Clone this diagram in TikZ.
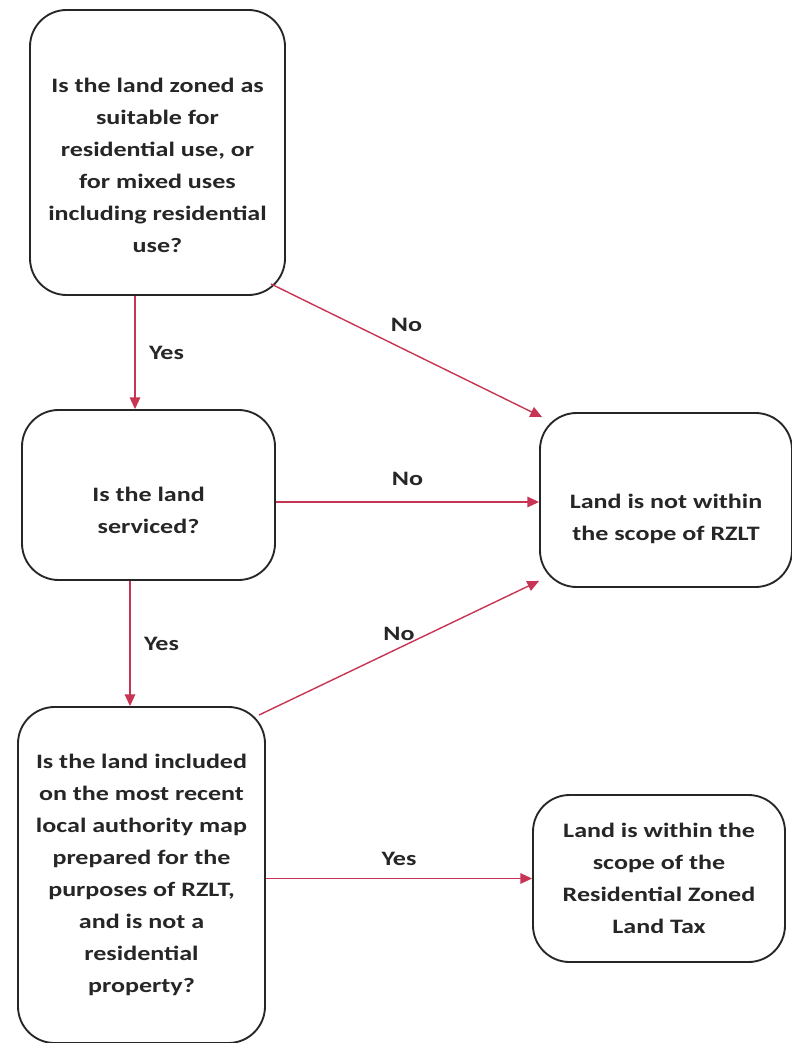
\documentclass[tikz,border=0pt]{standalone}
\usepackage{fontspec}
\setmainfont{Carlito}[FakeStretch=1.27]
\usetikzlibrary{arrows.meta}

\definecolor{flowred}{RGB}{200,52,84}
\definecolor{inkgray}{RGB}{38,38,38}

\tikzset{
  qbox/.style={draw=inkgray, line width=1.6pt, rounded corners=1.1cm, align=center,
    inner sep=0pt, text=inkgray, font=\fontsize{17.5}{27.4}\selectfont\bfseries},
  flow/.style={draw=flowred, line width=1.2pt, -{Triangle[length=10pt,width=9pt]}},
  lbl/.style={inner sep=0pt, text=inkgray, font=\fontsize{17.5}{21}\selectfont\bfseries},
}
\newcommand{\droptext}[1]{\rule{0pt}{#1}}

\begin{document}
\begin{tikzpicture}[x=0.03cm, y=-0.03cm]
    \useasboundingbox (0,0) rectangle (792,1043);

    % questions
    \node[qbox, minimum width=7.65cm, minimum height=8.55cm] (zoned) at (157.5,152.5)
        {\droptext{34pt}Is the land zoned as\\suitable for\\residential use, or\\for mixed uses\\including residential\\use?};
    \node[qbox, minimum width=7.59cm, minimum height=5.1cm] (serviced) at (148.5,495)
        {\droptext{38pt}Is the land\\serviced?};
    \node[qbox, minimum width=7.41cm, minimum height=10.08cm] (mapped) at (141.5,875)
        {Is the land included\\on the most recent\\local authority map\\prepared for the\\purposes of RZLT,\\and is not a\\residential\\property?};

    % outcomes
    \node[qbox, minimum width=7.56cm, minimum height=5.22cm] (notscope) at (666,500)
        {\droptext{45pt}Land is not within\\the scope of RZLT};
    \node[qbox, minimum width=7.56cm, minimum height=5.01cm] (inscope) at (659,878.5)
        {Land is within the\\scope of the\\Residential Zoned\\Land Tax};

    % arrows
    \draw[flow] ([shift={(-22.5,0)}]zoned.south) -- node[lbl, right=0.4cm] {Yes} ([shift={(-13.5,0)}]serviced.north);
    \draw[flow] ([shift={(-15,-12)}]zoned.south east) -- node[lbl, above=0.55cm] {No} ([shift={(3,5)}]notscope.north west);
    \draw[flow] ([shift={(0,7)}]serviced.east) -- node[lbl, above=0.48cm] {No} ([shift={(0,2)}]notscope.west);
    \draw[flow] ([shift={(-18.5,0)}]serviced.south) -- node[lbl, right=0.4cm] {Yes} ([shift={(-11.5,0)}]mapped.north);
    \draw[flow] ([shift={(-7,9)}]mapped.north east) -- node[lbl, above=0.2cm] {No} ([shift={(0,-7)}]notscope.south west);
    \draw[flow] (mapped.east |- inscope.west) -- node[lbl, above=0.36cm] {Yes} (inscope.west);
\end{tikzpicture}
\end{document}
